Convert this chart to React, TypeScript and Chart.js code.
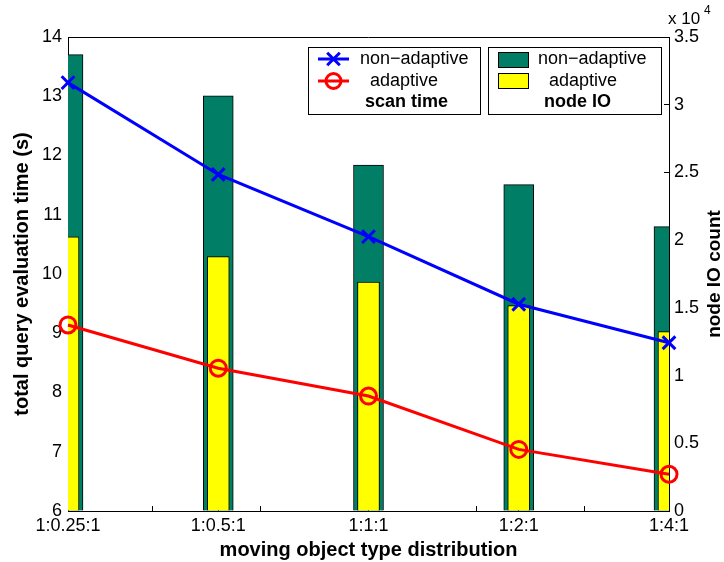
import React, { useEffect, useRef } from 'react';
import { Chart, registerables } from 'chart.js';

Chart.register(...registerables);

// ---- data ----
const categories = ['1:0.25:1', '1:0.5:1', '1:1:1', '1:2:1', '1:4:1'];
const scanNonAdaptive = [13.23, 11.68, 10.63, 9.49, 8.84];
const scanAdaptive = [9.14, 8.41, 7.94, 7.04, 6.62];
const ioNonAdaptive = [33700, 30650, 25550, 24100, 21000];
const ioAdaptive = [20250, 18780, 16900, 15160, 13240];
const leftTicks = [6, 7, 8, 9, 10, 11, 12, 13, 14];
const rightTicks = [0, 5000, 10000, 15000, 20000, 25000, 30000, 35000];
const barAxisTicks = [1, 2, 3, 4, 5];
const barAxisRange = [0.224, 5.776];

const FONT = '"Liberation Sans", Arial, sans-serif';
const GREEN = 'rgb(0,127,102)';
const YELLOW = '#ffff00';

const decorPlugin = {
  id: 'decor',
  afterDraw(chart: any) {
    const ctx = chart.ctx as CanvasRenderingContext2D;
    const a = chart.chartArea;
    ctx.save();
    // top frame line
    ctx.strokeStyle = '#000';
    ctx.lineWidth = 1;
    ctx.beginPath();
    ctx.moveTo(a.left, a.top + 0.5);
    ctx.lineTo(a.right, a.top + 0.5);
    ctx.stroke();

    ctx.fillStyle = '#000';
    // left title
    ctx.font = `bold 20px ${FONT}`;
    ctx.textAlign = 'center';
    ctx.textBaseline = 'middle';
    ctx.save();
    ctx.translate(22, (a.top + a.bottom) / 2);
    ctx.rotate(-Math.PI / 2);
    ctx.fillText('total query evaluation time (s)', 0, 0);
    ctx.restore();
    // right title
    ctx.font = `bold 19px ${FONT}`;
    ctx.save();
    ctx.translate(715, (a.top + a.bottom) / 2);
    ctx.rotate(-Math.PI / 2);
    ctx.fillText('node IO count', 0, 0);
    ctx.restore();
    // x title
    ctx.font = `bold 20px ${FONT}`;
    ctx.fillText('moving object type distribution', (a.left + a.right) / 2, 550);

    // x 10^4
    ctx.font = `17px ${FONT}`;
    ctx.textAlign = 'left';
    ctx.fillText('x 10', 668, 19);
    ctx.font = `12px ${FONT}`;
    ctx.fillText('4', 704, 11);

    // legend boxes
    ctx.fillStyle = '#fff';
    ctx.strokeStyle = '#000';
    ctx.lineWidth = 1;
    ctx.fillRect(308, 47, 172, 67);
    ctx.strokeRect(308.5, 47.5, 172, 67);
    ctx.fillRect(488, 47, 173, 67);
    ctx.strokeRect(488.5, 47.5, 173, 67);

    // scan time legend
    ctx.lineWidth = 3;
    ctx.strokeStyle = '#0000ff';
    ctx.beginPath();
    ctx.moveTo(318, 59);
    ctx.lineTo(349, 59);
    ctx.stroke();
    const cx = 333.5;
    const d = 6.3;
    ctx.beginPath();
    ctx.moveTo(cx - d, 59 - d);
    ctx.lineTo(cx + d, 59 + d);
    ctx.moveTo(cx - d, 59 + d);
    ctx.lineTo(cx + d, 59 - d);
    ctx.stroke();
    ctx.strokeStyle = '#ff0000';
    ctx.beginPath();
    ctx.moveTo(318, 81);
    ctx.lineTo(349, 81);
    ctx.stroke();
    ctx.beginPath();
    ctx.arc(cx, 81, 7.5, 0, Math.PI * 2);
    ctx.stroke();

    ctx.fillStyle = '#000';
    ctx.font = `18px ${FONT}`;
    ctx.textAlign = 'left';
    ctx.textBaseline = 'middle';
    ctx.fillText('non\u2212adaptive', 360, 59);
    ctx.fillText('adaptive', 370, 81);
    ctx.font = `bold 18px ${FONT}`;
    ctx.fillText('scan time', 365, 102);

    // node IO legend
    ctx.lineWidth = 1;
    ctx.strokeStyle = '#000';
    ctx.fillStyle = GREEN;
    ctx.fillRect(498, 52, 30, 15);
    ctx.strokeRect(498.5, 52.5, 30, 15);
    ctx.fillStyle = YELLOW;
    ctx.fillRect(498, 73, 30, 15);
    ctx.strokeRect(498.5, 73.5, 30, 15);
    ctx.fillStyle = '#000';
    ctx.font = `18px ${FONT}`;
    ctx.fillText('non\u2212adaptive', 538, 59);
    ctx.fillText('adaptive', 549, 81);
    ctx.font = `bold 18px ${FONT}`;
    ctx.fillText('node IO', 544, 102);
    ctx.restore();
  },
};

export default function App() {
  const ref = useRef<HTMLCanvasElement>(null);
  useEffect(() => {
    if (!ref.current) return;
    const chart = new Chart(ref.current, {
      data: {
        labels: categories,
        datasets: [
          {
            type: 'line',
            label: 'scan time non-adaptive',
            data: scanNonAdaptive,
            yAxisID: 'y',
            borderColor: '#0000ff',
            borderWidth: 3,
            pointStyle: 'crossRot',
            pointRadius: 9,
            pointBorderWidth: 3,
            pointBorderColor: '#0000ff',
            tension: 0,
            clip: false,
            order: 0,
          } as any,
          {
            type: 'line',
            label: 'scan time adaptive',
            data: scanAdaptive,
            yAxisID: 'y',
            borderColor: '#ff0000',
            borderWidth: 3,
            pointStyle: 'circle',
            pointRadius: 8,
            pointBorderWidth: 3,
            pointBorderColor: '#ff0000',
            pointBackgroundColor: 'rgba(0,0,0,0)',
            tension: 0,
            clip: false,
            order: 1,
          } as any,
          {
            type: 'bar',
            label: 'node IO adaptive',
            data: ioAdaptive,
            yAxisID: 'y1',
            backgroundColor: YELLOW,
            borderColor: '#000',
            borderWidth: 1,
            barThickness: 22,
            grouped: false,
            clip: 0,
            order: 2,
          } as any,
          {
            type: 'bar',
            label: 'node IO non-adaptive',
            data: ioNonAdaptive,
            yAxisID: 'y1',
            backgroundColor: GREEN,
            borderColor: '#000',
            borderWidth: 1,
            barThickness: 30,
            grouped: false,
            clip: 0,
            order: 3,
          } as any,
        ],
      },
      options: {
        animation: false,
        responsive: false,
        maintainAspectRatio: false,
        layout: { padding: { top: 37, left: 0, right: 0, bottom: 0 } },
        plugins: { legend: { display: false }, tooltip: { enabled: false } },
        scales: {
          x: {
            type: 'category',
            offset: false,
            position: 'bottom',
            weight: 1,
            grid: { display: true, offset: false, drawOnChartArea: false, drawTicks: true, tickLength: -5, color: '#000' },
            border: { display: true, color: '#000', width: 1 },
            ticks: { color: '#000', font: { family: FONT, size: 18 }, padding: 9, maxRotation: 0, autoSkip: false },
            afterFit: (s: any) => { s.height = 51; },
          },
          xb: {
            type: 'linear',
            position: 'bottom',
            weight: 0,
            min: barAxisRange[0],
            max: barAxisRange[1],
            grid: { display: true, offset: false, drawOnChartArea: false, drawTicks: true, tickLength: -5, color: '#000' },
            border: { display: false },
            ticks: { display: false },
            afterBuildTicks: (s: any) => { s.ticks = barAxisTicks.map((v) => ({ value: v })); },
            afterFit: (s: any) => { s.height = 0; },
          },
          y: {
            type: 'linear',
            position: 'left',
            min: 6,
            max: 14,
            grid: { display: true, drawOnChartArea: false, drawTicks: true, tickLength: -5, color: '#000' },
            border: { display: true, color: '#000', width: 1 },
            ticks: { color: '#000', font: { family: FONT, size: 18 }, padding: 11 },
            afterBuildTicks: (s: any) => { s.ticks = leftTicks.map((v) => ({ value: v })); },
            afterFit: (s: any) => { s.width = 68; },
          },
          y1: {
            type: 'linear',
            position: 'right',
            min: 0,
            max: 35000,
            grid: { display: true, drawOnChartArea: false, drawTicks: true, tickLength: -5, color: '#000' },
            border: { display: true, color: '#000', width: 1 },
            ticks: {
              color: '#000',
              font: { family: FONT, size: 18 },
              padding: 10,
              callback: (v: any) => String(Number(v) / 10000),
            },
            afterBuildTicks: (s: any) => { s.ticks = rightTicks.map((v) => ({ value: v })); },
            afterFit: (s: any) => { s.width = 55; },
          },
        },
      },
      plugins: [decorPlugin],
    } as any);
    return () => chart.destroy();
  }, []);

  return (
    <div style={{ position: 'absolute', left: 0, top: 0, width: 724, height: 562, background: '#fff' }}>
      <canvas ref={ref} width={724} height={562} style={{ width: 724, height: 562, display: 'block' }} />
    </div>
  );
}
